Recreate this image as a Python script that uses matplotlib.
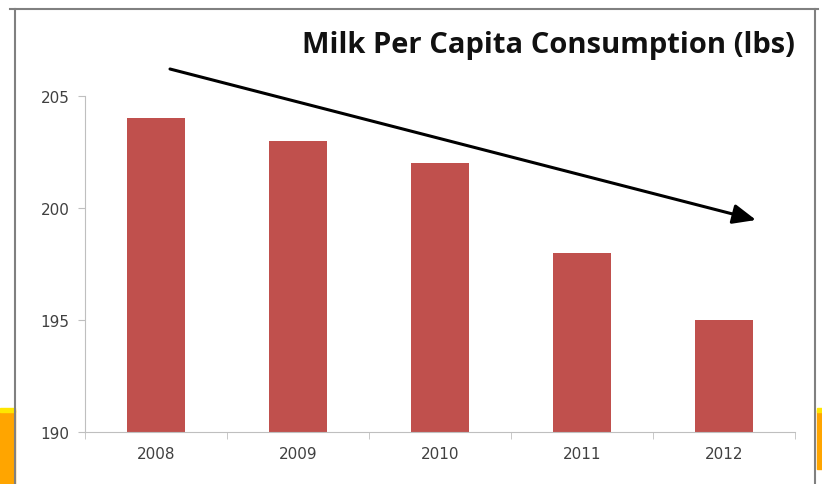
import matplotlib.pyplot as plt
from matplotlib.patches import Rectangle, FancyArrowPatch
from matplotlib.lines import Line2D

years = ['2008', '2009', '2010', '2011', '2012']
consumption = [204, 203, 202, 198, 195]
yticks = [190, 195, 200, 205]

W, H = 822, 485
fig = plt.figure(figsize=(W / 100, H / 100), dpi=100)


def fx(px):
    return px / W


def fy(py):
    return 1 - py / H


# slide decorations behind the chart
fig.add_artist(Rectangle((0, 0), fx(15), fy(411), transform=fig.transFigure, color='#FFA500', zorder=0))
fig.add_artist(Rectangle((0, fy(413)), fx(15), fy(409) - fy(413), transform=fig.transFigure, color='#FFE600', zorder=0))
fig.add_artist(Rectangle((fx(817), fy(470)), fx(5), fy(411) - fy(470), transform=fig.transFigure, color='#FFA500', zorder=0))
fig.add_artist(Rectangle((fx(817), fy(413)), fx(5), fy(409) - fy(413), transform=fig.transFigure, color='#FFE600', zorder=0))
fig.add_artist(Line2D([fx(15), fx(15)], [0, fy(10)], transform=fig.transFigure, color='#808080', lw=1.5))
fig.add_artist(Line2D([fx(815), fx(815)], [0, fy(10)], transform=fig.transFigure, color='#808080', lw=1.5))
fig.add_artist(Line2D([fx(10), fx(818)], [fy(10), fy(10)], transform=fig.transFigure, color='#808080', lw=1.5))

ax = fig.add_axes([fx(85), fy(433), fx(795) - fx(85), fy(97) - fy(433)])
x = range(len(years))
ax.bar(x, [v - 190 for v in consumption], bottom=190, width=0.41, color='#C0504D')
ax.set_xlim(-0.5, len(years) - 0.5)
ax.set_ylim(190, 205)
ax.set_yticks(yticks)
ax.set_xticks(x)
ax.set_xticklabels(years)
ax.set_xticks([i - 0.5 for i in range(len(years) + 1)], minor=True)
ax.tick_params(axis='x', which='major', length=0, pad=10, labelsize=11, labelcolor='#404040')
ax.tick_params(axis='x', which='minor', length=5, direction='out', color='#BFBFBF')
ax.tick_params(axis='y', length=5, direction='out', color='#BFBFBF', labelsize=11, labelcolor='#404040', pad=6)
for side in ['top', 'right']:
    ax.spines[side].set_visible(False)
for side in ['left', 'bottom']:
    ax.spines[side].set_color('#BFBFBF')

fig.text(fx(795), fy(45), 'Milk Per Capita Consumption (lbs)', ha='right', va='center',
         fontsize=21, fontweight='bold', family='Open Sans', color='#111111')

arrow = FancyArrowPatch((fx(170), fy(70)), (fx(756), fy(221)), transform=fig.transFigure,
                        arrowstyle='-|>,head_length=14,head_width=6', color='black', lw=2.2,
                        shrinkA=0, shrinkB=0)
fig.add_artist(arrow)

fig.savefig('out.png', dpi=100)
